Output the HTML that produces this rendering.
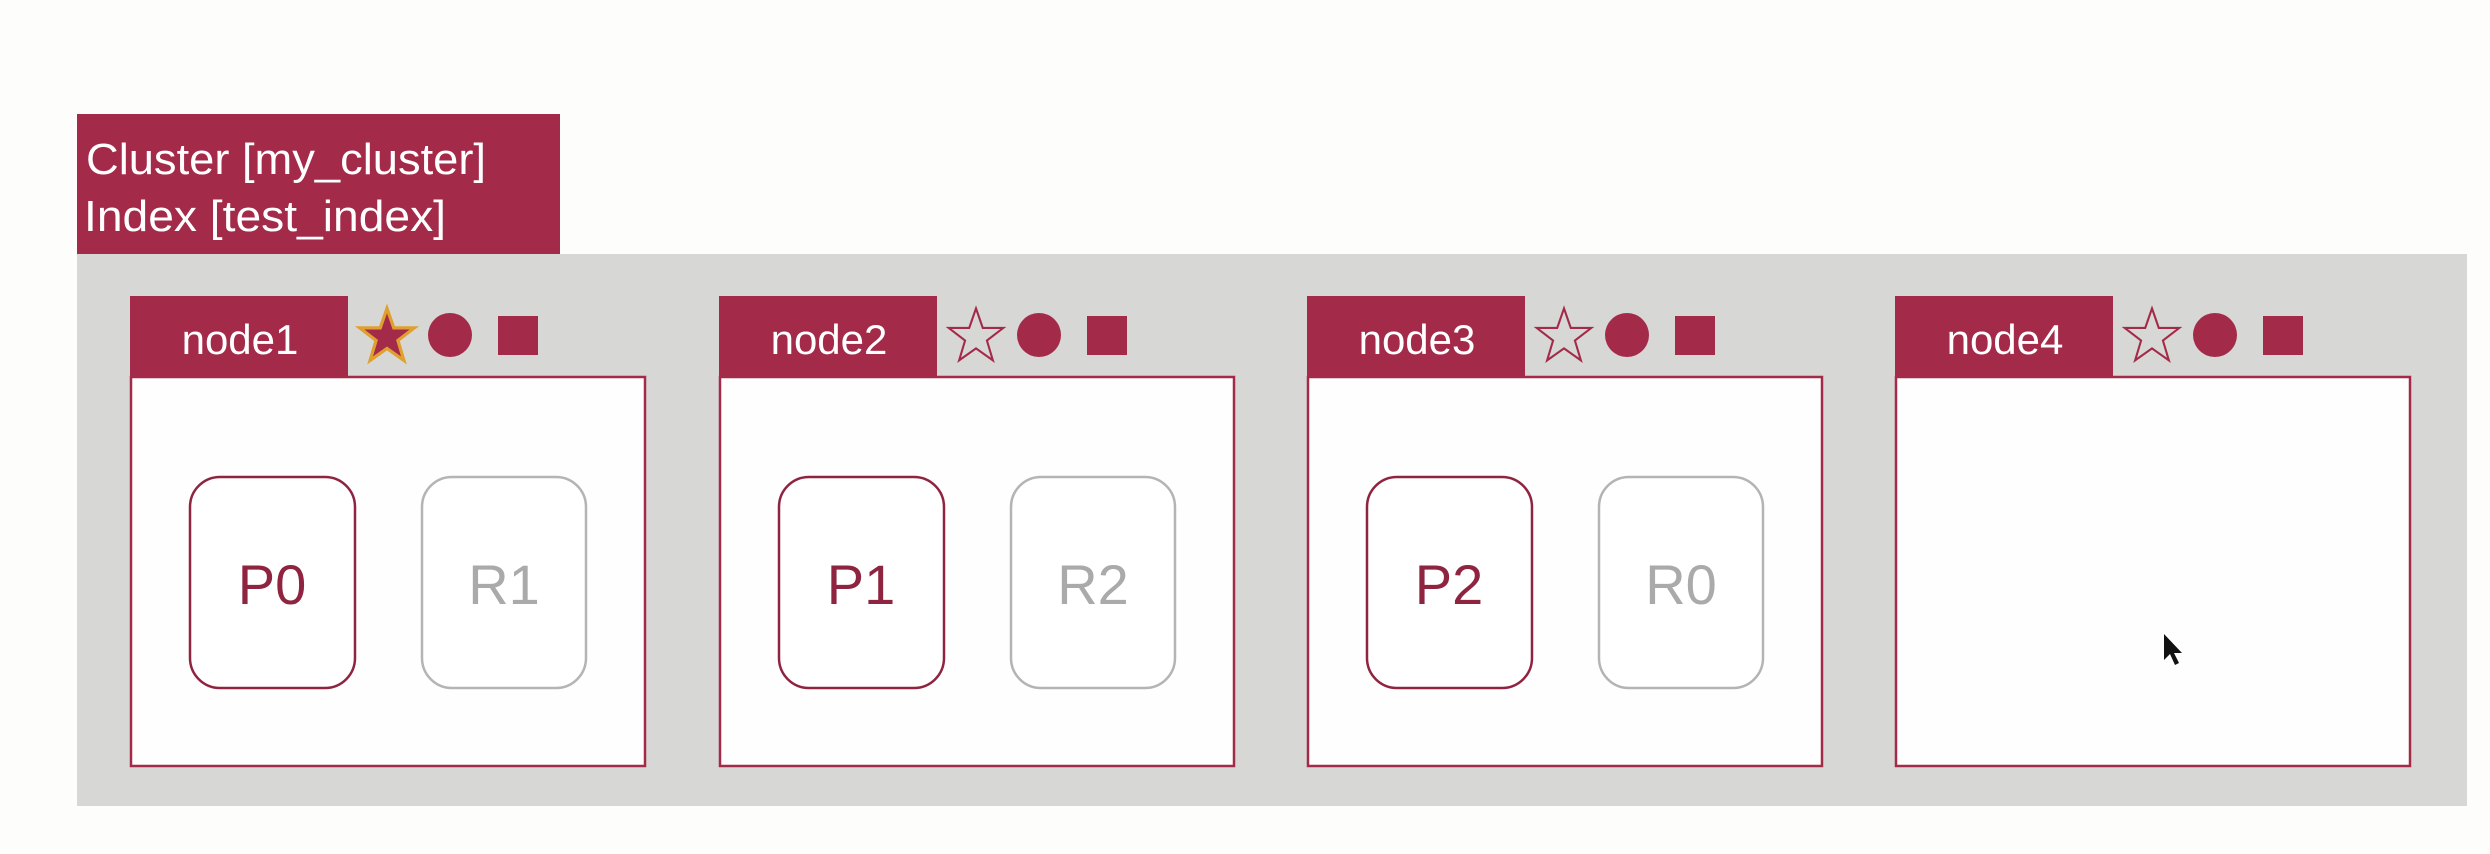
<!DOCTYPE html>
<html><head><meta charset="utf-8"><style>
html,body{margin:0;padding:0;background:#fdfdfb;width:2490px;height:854px;overflow:hidden}
svg{display:block}
text{font-family:"Liberation Sans",sans-serif}
</style></head><body>
<svg width="2490" height="854" viewBox="0 0 2490 854" xmlns="http://www.w3.org/2000/svg">
<defs>
<g id="star"><polygon points="0,-22 5.2,-7 21,-7 8.4,2.7 13,18 0,8.8 -13,18 -8.4,2.7 -21,-7 -5.2,-7"/></g>
<g id="node">
  <rect x="0" y="0" width="218" height="82" fill="#a32a48"/>
  <rect x="1" y="81" width="514" height="389" fill="#fefefe" stroke="#a32a48" stroke-width="2.5"/>
  <circle cx="320" cy="39" r="22" fill="#a32a48"/>
  <rect x="368" y="20" width="40" height="39" fill="#a32a48"/>
</g>
<g id="shards">
  <rect x="60" y="181" width="165" height="211" rx="30" fill="#fff" stroke="#8f2440" stroke-width="2.5"/>
  <rect x="292" y="181" width="164" height="211" rx="30" fill="#fff" stroke="#b4b4b4" stroke-width="2.5"/>
</g>
</defs>
<rect x="77" y="114" width="483" height="140" fill="#a32a48"/>
<text x="86" y="174" font-size="44" fill="#fff" textLength="400" lengthAdjust="spacingAndGlyphs">Cluster [my_cluster]</text>
<text x="84" y="231" font-size="44" fill="#fff" textLength="362" lengthAdjust="spacingAndGlyphs">Index [test_index]</text>
<rect x="77" y="254" width="2390" height="552" fill="#d7d8d6"/>

<g transform="translate(130,296)">
  <use href="#node"/><use href="#shards"/>
  <use href="#star" transform="translate(257,41) scale(1.3)" fill="#a32a48" stroke="#e0a030" stroke-width="2.5"/>
  <text x="110" y="58" font-size="42" fill="#fff" text-anchor="middle">node1</text>
  <text x="142" y="308" font-size="56" fill="#8f2440" text-anchor="middle">P0</text>
  <text x="374" y="308" font-size="56" fill="#aaa" text-anchor="middle">R1</text>
</g>
<g transform="translate(719,296)">
  <use href="#node"/><use href="#shards"/>
  <use href="#star" transform="translate(257,41) scale(1.3)" fill="none" stroke="#a32a48" stroke-width="1.6"/>
  <text x="110" y="58" font-size="42" fill="#fff" text-anchor="middle">node2</text>
  <text x="142" y="308" font-size="56" fill="#8f2440" text-anchor="middle">P1</text>
  <text x="374" y="308" font-size="56" fill="#aaa" text-anchor="middle">R2</text>
</g>
<g transform="translate(1307,296)">
  <use href="#node"/><use href="#shards"/>
  <use href="#star" transform="translate(257,41) scale(1.3)" fill="none" stroke="#a32a48" stroke-width="1.6"/>
  <text x="110" y="58" font-size="42" fill="#fff" text-anchor="middle">node3</text>
  <text x="142" y="308" font-size="56" fill="#8f2440" text-anchor="middle">P2</text>
  <text x="374" y="308" font-size="56" fill="#aaa" text-anchor="middle">R0</text>
</g>
<g transform="translate(1895,296)">
  <use href="#node"/>
  <use href="#star" transform="translate(257,41) scale(1.3)" fill="none" stroke="#a32a48" stroke-width="1.6"/>
  <text x="110" y="58" font-size="42" fill="#fff" text-anchor="middle">node4</text>
</g>
<polygon points="2164,634 2164,660 2170,654 2175,665 2179,663 2174,653 2182,653" fill="#111"/>
</svg>
</body></html>
